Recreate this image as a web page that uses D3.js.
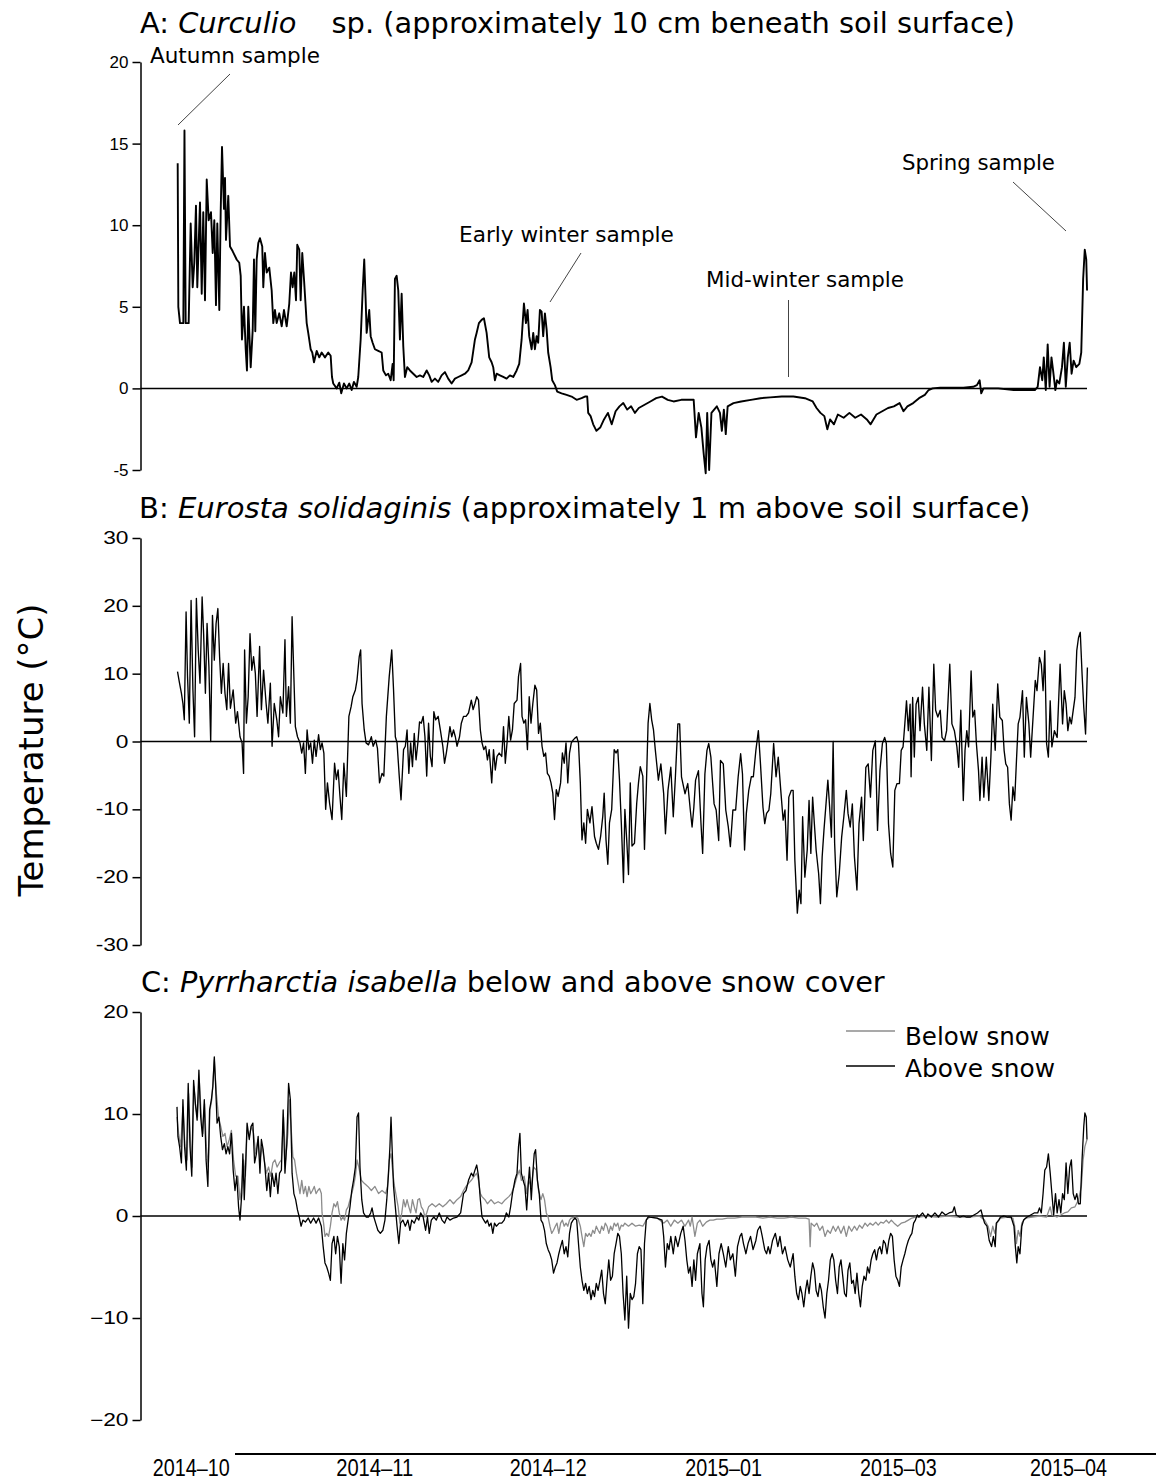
<!DOCTYPE html>
<html>
<head>
<meta charset="utf-8">
<script src="https://cdn.jsdelivr.net/npm/d3@7"></script>
<style>
  body { margin: 0; background: #fff; }
  svg { display: block; }
</style>
</head>
<body>
<svg id="chart" width="1156" height="1481"></svg>
<script>
// ---------------------------------------------------------------------------
// Temperature records, [days since start of logging, temperature °C]
// ---------------------------------------------------------------------------
const recordDays = 158.3;

// A: Curculio sp., ~10 cm beneath soil surface
const curculioTemp = [[0.12,13.8],[0.23,5.0],[0.52,4.0],[1.10,4.0],[1.30,15.8],[1.51,4.0],[2.03,4.0],[2.38,10.1],[2.73,6.2],[3.01,7.7],[3.30,11.2],[3.53,6.2],[4.0,11.4],[4.30,5.8],[4.57,10.8],[4.87,5.4],[5.17,12.8],[5.51,10.3],[5.91,10.8],[6.21,8.3],[6.49,10.3],[6.78,5.1],[7.01,10.1],[7.36,4.8],[7.60,10.8],[7.83,14.8],[8.17,11.0],[8.35,12.9],[8.52,9.1],[8.92,11.8],[9.22,8.7],[9.69,8.4],[10.38,7.9],[10.83,7.7],[11.08,6.9],[11.30,3.0],[11.65,5.0],[11.95,2.4],[12.17,1.1],[12.40,5.0],[12.82,1.3],[13.17,3.6],[13.39,7.9],[13.62,3.5],[13.86,7.9],[14.14,8.9],[14.43,9.2],[14.83,8.7],[15.01,6.2],[15.30,8.3],[15.60,7.1],[16.05,7.4],[16.47,6.0],[16.75,4.0],[17.04,4.8],[17.34,4.0],[17.79,4.6],[18.21,3.8],[18.61,4.8],[19.08,3.8],[19.53,5.2],[19.83,7.1],[20.12,6.2],[20.40,7.1],[20.70,5.4],[20.92,8.8],[21.27,8.5],[21.51,5.4],[21.79,8.3],[22.09,6.7],[22.56,4.0],[22.83,3.4],[23.25,2.4],[23.53,2.2],[23.83,1.6],[24.30,2.3],[24.75,1.9],[25.17,2.2],[25.74,1.9],[26.31,2.2],[26.73,2.0],[26.96,0.7],[27.18,0.3],[27.77,0.0],[28.23,0.35],[28.57,-0.3],[29.04,0.3],[29.51,0],[29.97,0.3],[30.38,-0.1],[30.78,0.4],[31.25,0.1],[31.53,0.7],[31.95,3.0],[32.30,6.0],[32.57,7.9],[32.82,5.4],[32.99,3.4],[33.44,4.8],[33.69,3.2],[34.03,2.8],[34.43,2.4],[35.01,2.3],[35.60,2.2],[35.88,1.1],[36.35,0.8],[36.75,0.9],[37.17,0.5],[37.51,1.5],[37.69,0.5],[37.91,6.7],[38.21,6.9],[38.49,6.0],[38.78,3.0],[39.08,5.8],[39.36,2.6],[39.65,0.7],[40.05,1.3],[40.52,1.1],[41.10,0.9],[41.69,0.7],[42.26,0.8],[42.83,0.7],[43.43,1.1],[43.88,0.8],[44.30,0.4],[44.87,0.6],[45.44,0.4],[46.03,0.8],[46.61,1.0],[47.18,0.6],[47.77,0.3],[48.35,0.6],[48.92,0.7],[49.51,0.8],[50.09,0.9],[50.66,1.1],[51.25,1.6],[51.83,3.0],[52.12,3.4],[52.52,4.0],[52.99,4.2],[53.39,4.3],[53.86,3.4],[54.31,1.9],[54.73,1.6],[55.01,1.3],[55.30,0.5],[55.60,0.9],[56.17,0.8],[56.75,0.7],[57.34,0.6],[57.91,0.8],[58.49,0.7],[59.08,1.1],[59.53,1.5],[59.95,3.0],[60.35,5.2],[60.70,4.0],[60.99,4.8],[61.27,3.2],[61.69,2.4],[61.97,3.4],[62.26,2.4],[62.56,3.2],[62.83,2.8],[63.13,4.8],[63.43,4.7],[63.70,3.2],[64.0,4.6],[64.30,3.6],[64.57,2.2],[64.99,1.3],[65.27,0.5],[65.74,0.2],[66.14,-0.2],[66.90,-0.3],[67.77,-0.4],[68.64,-0.5],[69.51,-0.7],[70.38,-0.6],[70.96,-0.5],[71.36,-0.5],[71.53,-1.5],[71.95,-1.7],[72.40,-2.2],[72.96,-2.6],[73.62,-2.4],[74.28,-1.9],[74.96,-1.5],[75.62,-2.2],[76.30,-1.4],[76.97,-1.1],[77.63,-0.9],[78.31,-1.3],[78.99,-1.1],[79.65,-1.5],[80.33,-1.2],[81.34,-1.0],[82.35,-0.8],[83.36,-0.6],[84.37,-0.5],[85.37,-0.7],[86.38,-0.8],[87.72,-0.7],[89.08,-0.7],[89.88,-0.7],[90.28,-3.0],[90.75,-1.5],[91.22,-2.4],[91.62,-4.0],[91.97,-5.2],[92.23,-1.5],[92.57,-5.0],[92.97,-1.5],[93.44,-1.3],[93.91,-1.1],[94.45,-1.5],[94.78,-2.6],[95.13,-1.3],[95.46,-2.8],[95.79,-1.1],[96.80,-0.9],[98.14,-0.8],[99.83,-0.7],[101.51,-0.6],[103.18,-0.55],[105.20,-0.5],[107.22,-0.5],[109.23,-0.6],[110.59,-0.8],[111.25,-1.2],[111.93,-1.5],[112.61,-1.7],[113.13,-2.5],[113.60,-1.9],[114.28,-2.2],[114.96,-1.6],[115.97,-1.8],[116.97,-1.5],[117.98,-1.8],[118.99,-1.6],[120.0,-1.9],[120.66,-2.2],[121.67,-1.6],[122.68,-1.4],[123.69,-1.2],[124.70,-1.1],[125.70,-0.9],[126.38,-1.4],[127.06,-1.1],[128.07,-0.9],[129.08,-0.6],[130.09,-0.4],[130.75,-0.1],[131.43,0],[132.77,0.05],[134.78,0.05],[136.80,0.05],[138.49,0.1],[139.15,0.2],[139.62,0.5],[139.90,-0.3],[140.30,0],[142.85,0],[145.55,-0.1],[149.23,-0.1],[149.72,0.1],[150.12,1.3],[150.52,0.5],[150.78,1.9],[151.13,-0.1],[151.46,2.7],[151.79,0.1],[152.12,1.9],[152.40,1.1],[152.80,-0.1],[153.08,0.5],[153.48,0.3],[153.95,1.3],[154.28,2.8],[154.61,0.1],[154.96,1.9],[155.29,2.8],[155.62,0.9],[155.97,1.7],[156.43,1.3],[156.97,1.5],[157.30,2.2],[157.63,6.7],[157.91,8.5],[158.17,7.9],[158.31,6.0]];

// B: Eurosta solidaginis, ~1 m above soil surface
const eurostaTemp = [[0.09,10.3],[0.40,8.8],[0.77,7.1],[1.03,5.6],[1.27,3.2],[1.58,19.1],[1.83,9.6],[2.14,2.7],[2.45,20.8],[2.77,7.6],[3.06,0.7],[3.37,21.1],[3.69,13.5],[4.0,8.6],[4.37,21.3],[4.63,15.9],[4.94,7.1],[5.23,17.4],[5.55,11.0],[5.86,0.0],[6.17,18.6],[6.49,12.0],[6.80,17.4],[7.11,19.6],[7.41,12.5],[7.72,7.1],[8.03,11.5],[8.35,7.1],[8.66,4.7],[8.97,11.5],[9.29,4.9],[9.77,7.6],[10.21,2.7],[10.52,4.4],[10.96,0.7],[11.32,-0.2],[11.58,-4.7],[11.76,13.5],[12.07,2.7],[12.38,6.6],[12.70,15.9],[13.01,10.5],[13.32,12.5],[13.63,10.0],[13.93,3.7],[14.37,14.0],[14.68,4.7],[15.06,10.5],[15.50,5.6],[15.81,2.7],[16.24,8.6],[16.54,-0.7],[16.92,5.6],[17.36,3.2],[17.67,0.7],[17.98,6.6],[18.42,4.2],[18.78,15.0],[19.03,3.7],[19.41,8.1],[19.72,2.7],[20.02,18.4],[20.33,9.6],[20.59,2.2],[20.96,0.7],[21.39,-0.2],[21.70,-1.7],[22.02,-0.2],[22.33,-4.7],[22.63,1.7],[22.94,-1.2],[23.25,-0.2],[23.57,-3.2],[23.88,0.2],[24.19,-2.2],[24.63,1.0],[24.94,-1.2],[25.23,-0.2],[25.55,-1.7],[25.86,-10.0],[26.17,-6.1],[26.54,-9.1],[26.97,-11.5],[27.41,-3.2],[27.72,-5.6],[28.03,-4.2],[28.35,-8.1],[28.66,-11.5],[29.03,-3.2],[29.46,-8.1],[29.90,3.7],[30.28,5.1],[30.59,6.6],[31.03,7.6],[31.32,9.1],[31.70,12.5],[31.95,13.5],[32.19,5.6],[32.57,1.7],[32.89,-0.2],[33.32,-0.5],[33.81,0.7],[34.12,-0.7],[34.56,0.2],[34.87,-1.0],[35.23,-6.1],[35.67,-4.7],[35.98,-5.1],[36.42,3.7],[36.92,9.6],[37.36,13.5],[37.67,7.6],[37.98,0.7],[38.28,-0.2],[38.66,-5.1],[38.97,-8.6],[39.41,-1.2],[39.72,-0.7],[40.02,1.7],[40.33,-4.7],[40.64,-0.2],[40.96,-3.7],[41.27,1.2],[41.58,-2.7],[41.90,-0.2],[42.19,2.9],[42.50,2.7],[42.82,3.7],[43.13,0.7],[43.44,-5.1],[43.76,2.7],[44.07,-2.2],[44.37,-3.7],[44.68,4.4],[44.99,3.2],[45.43,3.7],[45.81,1.7],[46.24,-0.7],[46.54,-3.2],[46.85,-1.7],[47.17,0.2],[47.48,2.2],[47.79,0.7],[48.10,1.7],[48.42,0.7],[48.71,-0.7],[49.15,0.7],[49.46,2.7],[49.84,3.7],[50.28,3.7],[50.71,4.2],[51.20,6.1],[51.51,4.7],[51.83,5.6],[52.14,6.6],[52.45,6.1],[52.77,1.7],[53.06,-0.2],[53.37,-1.2],[53.69,-0.7],[54.0,-2.7],[54.31,-1.2],[54.75,-6.1],[55.06,-1.2],[55.37,-4.2],[55.67,-2.2],[56.05,-1.7],[56.49,-2.2],[56.80,2.2],[57.11,-3.2],[57.41,-0.2],[57.72,3.7],[58.03,0.2],[58.35,1.7],[58.66,5.6],[59.15,6.1],[59.41,9.6],[59.77,11.5],[60.02,3.7],[60.33,2.7],[60.64,3.2],[60.96,-1.2],[61.27,6.6],[61.58,2.7],[61.90,5.6],[62.26,8.3],[62.57,7.6],[62.89,1.2],[63.20,2.7],[63.50,-0.7],[63.81,-2.2],[64.12,-1.7],[64.43,-4.7],[64.75,-5.1],[65.06,-6.1],[65.37,-7.6],[65.67,-11.5],[65.98,-7.1],[66.30,-8.1],[66.73,-6.1],[67.04,-1.7],[67.36,-3.2],[67.67,-0.2],[67.98,-6.1],[68.28,-1.7],[68.59,-0.2],[68.90,0.2],[69.22,0.5],[69.53,0.7],[69.84,-0.2],[70.16,-6.1],[70.45,-14.5],[70.77,-12.0],[71.08,-15.0],[71.39,-10.0],[71.83,-12.0],[72.19,-9.6],[72.63,-14.0],[72.94,-15.0],[73.32,-15.9],[73.69,-14.0],[74.07,-11.0],[74.31,-7.6],[74.63,-14.5],[74.94,-18.1],[75.23,-12.0],[75.62,-10.0],[76.05,-1.2],[76.37,-1.7],[76.68,-1.2],[76.97,-5.6],[77.29,-12.0],[77.67,-20.8],[77.91,-10.0],[78.23,-14.5],[78.54,-19.6],[78.85,-6.1],[79.15,-15.4],[79.58,-15.0],[79.97,-9.1],[80.28,-6.1],[80.59,-3.7],[81.03,-5.1],[81.32,-15.9],[81.63,-7.1],[81.95,2.7],[82.26,5.6],[82.57,3.2],[82.89,1.7],[83.20,-1.2],[83.74,-5.7],[84.17,-3.3],[84.66,-7.7],[84.97,-13.6],[85.41,-7.2],[85.90,-3.8],[86.33,-11.1],[86.70,-5.2],[87.13,2.6],[87.44,2.6],[87.76,-5.2],[88.37,-7.7],[88.85,-6.2],[89.29,-10.1],[89.60,-12.6],[89.91,-9.7],[90.21,-5.7],[90.71,-4.3],[91.15,-12.1],[91.44,-16.5],[91.83,-4.8],[92.19,-1.3],[92.50,-0.3],[92.87,-2.3],[93.18,-6.2],[93.43,-9.2],[93.79,-10.1],[94.23,-14.6],[94.54,-2.8],[95.03,-3.3],[95.46,-10.1],[95.90,-12.6],[96.26,-15.5],[96.70,-10.1],[97.18,-10.1],[97.62,-5.2],[98.05,-1.8],[98.37,-4.8],[98.73,-16.0],[99.04,-10.6],[99.46,-7.2],[99.90,-5.2],[100.26,-5.2],[100.70,-1.3],[101.13,1.6],[101.50,-3.3],[101.93,-9.7],[102.24,-12.1],[102.56,-10.6],[102.97,-10.1],[103.29,-7.7],[103.79,-0.3],[104.21,-5.2],[104.59,-2.3],[105.03,-7.2],[105.44,-11.6],[105.76,-10.1],[106.12,-17.5],[106.43,-8.2],[106.87,-7.2],[107.18,-7.2],[107.48,-17.5],[107.91,-25.3],[108.23,-21.9],[108.54,-23.9],[108.83,-11.1],[109.22,-20.0],[109.63,-16.0],[109.95,-8.7],[110.26,-16.5],[110.57,-8.2],[110.87,-12.1],[111.18,-16.0],[111.62,-19.5],[111.93,-23.9],[112.23,-17.0],[112.54,-13.1],[112.90,-9.2],[113.22,-5.7],[113.53,-9.7],[113.84,-14.1],[114.14,0.0],[114.40,-15.0],[114.77,-22.9],[115.20,-19.5],[115.62,-14.1],[116.0,-11.1],[116.43,-7.2],[116.73,-10.6],[117.11,-12.6],[117.48,-9.2],[117.84,-17.0],[118.28,-21.9],[118.64,-12.1],[119.08,-8.2],[119.39,-14.6],[119.83,-3.8],[120.24,-3.3],[120.63,-8.2],[121.04,-1.3],[121.48,0.1],[121.86,-13.1],[122.28,-4.3],[122.71,-0.3],[123.10,0.6],[123.39,-0.3],[123.77,-12.1],[124.14,-16.5],[124.52,-18.5],[124.87,-7.2],[125.25,-6.2],[125.67,-6.2],[125.98,-1.3],[126.30,-0.8],[126.61,2.6],[126.90,6.0],[127.22,1.6],[127.53,5.5],[127.70,-5.2],[127.97,6.5],[128.26,-2.3],[128.57,5.5],[128.94,6.5],[129.25,1.6],[129.69,8.0],[130.0,2.6],[130.43,-1.3],[130.80,8.0],[131.23,-2.8],[131.65,11.4],[131.97,4.6],[132.35,3.6],[132.77,4.6],[133.08,0.6],[133.51,0.1],[133.88,1.6],[134.43,11.4],[134.80,2.6],[135.23,1.6],[135.67,-0.8],[135.98,-3.8],[136.35,4.6],[136.78,-8.7],[137.08,-1.3],[137.39,1.6],[137.70,-0.8],[138.14,10.4],[138.43,3.6],[138.75,4.6],[139.06,-0.3],[139.43,-4.3],[139.67,-8.7],[140.05,-2.3],[140.35,-8.2],[140.78,-2.3],[141.22,-8.7],[141.58,-2.3],[141.90,5.5],[142.33,-1.3],[142.77,8.5],[143.13,3.6],[143.57,3.1],[143.88,-1.3],[144.17,-3.3],[144.49,-3.8],[144.80,-9.2],[145.10,-11.6],[145.41,-6.7],[145.72,-8.7],[146.03,-2.8],[146.33,2.6],[146.64,3.6],[147.08,7.5],[147.39,-2.3],[147.76,6.5],[148.19,2.6],[148.50,-2.3],[148.92,3.6],[149.30,9.0],[149.60,7.5],[150.03,12.4],[150.35,11.4],[150.66,7.5],[150.96,13.4],[151.27,-0.3],[151.58,-2.3],[151.90,6.0],[152.19,-0.8],[152.63,1.6],[153.11,0.6],[153.62,11.4],[154.05,2.6],[154.35,7.5],[154.66,5.5],[154.97,1.6],[155.29,3.6],[155.58,2.6],[155.90,4.6],[156.21,6.5],[156.52,13.4],[156.82,15.3],[157.13,16.1],[157.44,10.0],[157.74,5.0],[158.05,1.1],[158.37,10.9]];

// C: Pyrrharctia isabella, logger beneath the snow pack
const isabellaBelowSnow = [[0,9.7],[0.28,8.1],[0.64,6.8],[1.03,10.7],[1.39,6.8],[1.76,5.5],[2.02,12.0],[2.33,7.5],[2.63,4.8],[2.94,12.7],[3.25,10.7],[3.57,9.7],[3.88,13.3],[4.19,10.1],[4.50,8.1],[4.80,11.0],[5.11,6.8],[5.43,4.8],[5.74,10.4],[6.05,11.4],[6.49,15.3],[6.85,12.0],[7.23,9.7],[7.60,8.8],[7.98,7.8],[8.35,8.1],[8.71,6.8],[9.10,7.5],[9.46,8.4],[9.84,5.5],[10.21,3.9],[10.59,3.9],[10.96,1.6],[11.27,2.9],[11.58,5.5],[11.90,3.9],[12.19,8.4],[12.57,7.8],[12.94,8.8],[13.32,8.1],[13.69,6.1],[14.07,7.5],[14.43,5.5],[14.80,6.8],[15.18,5.5],[15.55,4.2],[15.93,4.8],[16.30,3.9],[16.68,5.2],[17.04,5.5],[17.41,4.8],[17.79,5.2],[18.16,5.5],[18.54,9.7],[18.90,5.5],[19.29,8.1],[19.53,11.4],[19.84,8.8],[20.16,5.8],[20.45,5.5],[20.77,4.2],[21.08,3.2],[21.39,2.2],[21.70,3.5],[22.02,2.2],[22.33,2.9],[22.63,1.9],[22.94,2.9],[23.25,2.2],[23.57,2.5],[23.88,2.9],[24.19,2.2],[24.50,2.5],[24.80,2.7],[25.11,2.2],[25.23,0.3],[25.50,-0.7],[25.74,-2.0],[26.05,-1.7],[26.37,-2.0],[26.68,-1.0],[26.97,0.3],[27.29,1.2],[27.60,0.9],[27.91,1.4],[28.23,0.3],[28.54,-0.4],[28.85,-0.1],[29.15,-0.4],[29.46,0.6],[29.77,0.9],[30.09,1.6],[30.40,2.2],[30.71,2.9],[31.03,3.9],[31.32,5.5],[31.63,4.8],[32.07,3.5],[32.57,3.2],[33.20,2.9],[33.81,2.5],[34.43,2.9],[35.06,2.2],[35.67,2.5],[36.30,2.2],[36.61,2.9],[36.92,5.5],[37.23,6.1],[37.55,4.2],[37.84,2.9],[38.16,1.9],[38.47,0.9],[38.78,-0.7],[39.10,0.3],[39.41,1.6],[39.72,0.9],[40.02,1.6],[40.33,0.9],[40.64,0.3],[40.96,1.6],[41.27,0.9],[41.58,0.3],[41.90,1.6],[42.19,1.7],[42.50,0.9],[42.82,0.6],[43.13,-0.1],[43.44,0.3],[43.76,0.9],[44.37,1.2],[44.99,0.9],[45.62,1.2],[46.24,0.9],[46.85,1.2],[47.48,1.6],[48.10,1.2],[48.71,1.6],[49.34,1.9],[49.84,2.5],[50.28,2.9],[50.71,3.2],[51.20,3.5],[51.70,3.9],[52.14,4.2],[52.45,3.5],[52.77,2.2],[53.06,1.9],[53.57,1.6],[54.0,1.2],[54.63,1.6],[55.23,1.2],[55.86,1.4],[56.49,1.2],[57.11,1.6],[57.72,1.9],[58.16,2.2],[58.66,2.9],[59.15,3.9],[59.58,4.5],[59.90,3.5],[60.40,3.9],[60.83,2.2],[61.15,3.5],[61.63,2.9],[62.07,4.8],[62.50,4.5],[62.89,2.5],[63.32,1.6],[63.63,2.2],[63.93,1.6],[64.24,0.3],[64.56,-0.1],[64.87,-1.0],[65.18,-1.7],[65.50,-1.4],[65.81,-1.0],[66.10,-0.7],[66.42,-1.7],[66.73,-0.7],[67.04,-0.4],[67.36,-1.0],[67.67,-0.7],[67.98,-1.0],[68.28,-0.4],[68.59,-0.2],[69.22,-0.1],[69.72,-0.2],[70.16,-1.0],[70.45,-2.0],[70.77,-3.0],[71.08,-1.7],[71.39,-2.0],[71.70,-1.7],[72.02,-2.0],[72.33,-1.4],[72.63,-1.7],[72.94,-1.0],[73.25,-1.4],[73.57,-1.7],[73.88,-1.0],[74.19,-1.4],[74.50,-0.7],[74.80,-1.0],[75.11,-1.7],[75.43,-1.0],[75.74,-1.4],[76.05,-0.7],[76.37,-1.0],[76.68,-0.7],[76.97,-1.4],[77.29,-0.9],[77.60,-1.0],[77.91,-0.7],[78.54,-1.0],[79.15,-0.7],[79.77,-1.0],[80.40,-0.9],[81.03,-1.0],[81.63,-0.4],[82.26,-0.1],[83.50,-0.2],[84.66,-0.7],[85.29,-0.4],[85.90,-1.0],[86.52,-0.4],[87.13,-0.7],[87.76,-0.4],[88.37,-1.0],[88.99,-0.4],[89.29,-1.0],[89.60,-0.1],[90.09,-2.0],[90.52,-0.7],[90.96,-0.4],[91.44,-1.0],[92.07,-0.6],[92.68,-0.4],[93.30,-0.4],[93.91,-0.3],[94.83,-0.3],[95.77,-0.2],[97.01,-0.2],[98.23,-0.1],[99.46,-0.1],[100.70,-0.1],[101.93,-0.2],[103.17,-0.1],[104.40,-0.2],[105.63,-0.2],[106.87,-0.1],[108.10,-0.2],[109.34,-0.2],[109.95,-0.3],[110.14,-3.0],[110.31,-0.7],[110.87,-1.0],[111.30,-0.7],[111.81,-1.4],[112.30,-1.0],[112.73,-2.0],[113.17,-1.4],[113.65,-1.7],[114.14,-1.0],[114.57,-1.5],[115.01,-1.0],[115.50,-1.7],[116.0,-1.0],[116.43,-2.0],[116.87,-1.0],[117.36,-1.5],[117.84,-1.0],[118.28,-1.4],[118.71,-0.9],[119.20,-1.2],[119.69,-0.7],[120.12,-1.0],[120.56,-0.7],[121.04,-0.9],[121.55,-0.6],[121.98,-0.9],[122.42,-0.6],[122.90,-0.7],[123.39,-0.4],[123.83,-0.7],[124.26,-0.4],[124.75,-0.7],[125.37,-1.0],[125.98,-0.7],[126.61,-0.6],[127.22,-0.4],[127.84,-0.2],[128.45,-0.1],[129.06,-0.1],[130.30,0],[132.16,-0.1],[134.0,0],[135.86,-0.1],[137.70,-0.1],[139.55,0],[140.49,-0.4],[141.10,-1.0],[141.53,-2.0],[141.91,-1.0],[142.26,-1.7],[142.64,-0.7],[143.25,-0.2],[144.49,-0.1],[145.41,-0.2],[145.72,-1.0],[146.03,-2.7],[146.33,-1.4],[146.64,-2.0],[146.96,-0.7],[147.57,-0.2],[148.80,-0.1],[150.03,0],[151.27,-0.1],[151.90,0.9],[152.19,0.1],[153.11,-0.1],[153.74,0.1],[154.35,0.3],[154.97,0.4],[155.58,0.8],[156.21,0.9],[156.82,1.6],[157.32,2.9],[157.62,5.5],[157.93,6.8],[158.30,7.5]];

// C: Pyrrharctia isabella, logger above the snow pack
const isabellaAboveSnow = [[0,10.7],[0.16,7.8],[0.45,6.8],[0.77,5.2],[1.03,11.4],[1.32,6.8],[1.63,4.5],[1.95,13.0],[2.26,6.8],[2.57,3.9],[2.89,13.3],[3.20,11.0],[3.50,9.4],[3.81,14.3],[4.12,9.7],[4.43,7.8],[4.75,11.4],[5.06,5.5],[5.37,2.9],[5.67,10.4],[5.98,11.4],[6.24,12.7],[6.49,15.6],[6.73,12.7],[6.97,9.1],[7.29,9.7],[7.60,7.8],[7.91,6.5],[8.23,7.1],[8.54,6.1],[8.85,6.8],[9.15,6.1],[9.46,8.1],[9.77,4.5],[10.09,2.5],[10.40,3.9],[10.71,0.9],[10.96,-0.4],[11.27,2.2],[11.46,6.1],[11.70,1.6],[11.95,5.2],[12.19,9.1],[12.57,7.5],[12.89,8.8],[13.20,9.1],[13.50,5.2],[13.81,6.1],[14.12,7.8],[14.43,4.2],[14.68,7.5],[14.99,6.5],[15.30,4.8],[15.62,2.5],[15.93,4.2],[16.24,1.9],[16.54,4.2],[16.92,2.9],[17.23,4.2],[17.55,2.2],[17.84,4.2],[18.16,4.5],[18.47,10.4],[18.78,4.2],[19.10,7.1],[19.41,13.0],[19.72,11.4],[20.02,4.2],[20.33,2.2],[20.64,1.6],[20.96,0.6],[21.27,-0.1],[21.58,-1.0],[21.90,-0.4],[22.33,-0.6],[22.82,-0.2],[23.25,-0.7],[23.76,-0.2],[24.19,-0.7],[24.63,-0.2],[25.11,-1.0],[25.43,-3.0],[25.74,-4.6],[26.05,-5.0],[26.37,-5.6],[26.68,-6.3],[26.97,-2.7],[27.29,-2.0],[27.60,-3.7],[27.91,-2.0],[28.23,-3.0],[28.54,-6.6],[28.85,-2.7],[29.15,-4.3],[29.46,-1.7],[29.77,-0.4],[30.09,0.9],[30.40,2.5],[30.71,3.5],[31.03,4.8],[31.32,9.7],[31.58,10.1],[31.83,4.8],[32.14,1.6],[32.45,0.3],[32.89,-0.1],[33.32,-0.1],[33.69,0.3],[33.93,0.8],[34.24,-0.1],[34.56,-0.7],[34.94,-1.4],[35.37,-1.7],[35.81,-1.4],[36.17,-0.4],[36.49,1.6],[36.80,4.2],[37.04,6.8],[37.23,9.7],[37.41,6.8],[37.67,2.9],[37.98,0.9],[38.28,-1.0],[38.59,-2.7],[38.90,-0.7],[39.29,-0.4],[39.72,-1.0],[40.16,-0.4],[40.52,-1.4],[40.83,-0.4],[41.27,-0.7],[41.70,-0.1],[42.07,-0.4],[42.38,0.3],[42.82,-0.1],[43.25,-1.4],[43.57,-0.1],[43.88,-1.7],[44.24,-0.4],[44.68,-0.1],[45.11,-0.4],[45.62,0.3],[46.10,-0.4],[46.54,-0.7],[46.97,-0.1],[47.48,-0.4],[48.10,-0.2],[48.71,-0.1],[49.34,0.3],[49.84,2.2],[50.28,2.5],[50.71,3.5],[51.20,4.2],[51.51,3.9],[51.83,4.5],[52.14,5.0],[52.45,3.9],[52.77,1.6],[53.06,-0.1],[53.37,-0.4],[53.69,-0.7],[54.0,-0.4],[54.31,-1.0],[54.63,-0.7],[54.94,-1.7],[55.23,-0.7],[55.55,-1.0],[56.05,-0.7],[56.49,-0.7],[56.92,-0.4],[57.29,0.3],[57.72,-0.1],[58.03,0.9],[58.35,2.2],[58.78,3.5],[59.15,4.2],[59.41,6.8],[59.65,8.1],[59.90,4.2],[60.21,3.5],[60.52,2.9],[60.83,0.6],[61.15,3.5],[61.32,4.8],[61.63,1.6],[61.90,4.2],[62.14,6.1],[62.38,6.5],[62.70,3.5],[63.01,2.2],[63.32,-0.4],[63.63,-0.7],[63.93,-1.4],[64.24,-2.7],[64.56,-3.3],[64.87,-3.7],[65.18,-4.3],[65.50,-5.6],[65.81,-5.0],[66.10,-4.6],[66.42,-3.7],[66.73,-3.0],[67.04,-2.4],[67.36,-3.7],[67.67,-3.0],[67.98,-4.0],[68.28,-1.7],[68.59,-0.7],[68.90,-0.4],[69.22,-0.2],[69.53,-0.4],[69.84,-2.7],[70.16,-5.0],[70.45,-6.3],[70.77,-7.3],[71.08,-6.6],[71.39,-7.6],[71.70,-6.9],[72.02,-8.2],[72.33,-7.3],[72.63,-7.9],[72.94,-6.6],[73.25,-7.3],[73.57,-6.3],[73.88,-5.3],[74.19,-7.6],[74.50,-8.6],[74.80,-6.3],[75.11,-4.3],[75.43,-6.3],[75.74,-5.9],[76.05,-3.7],[76.37,-2.7],[76.68,-1.7],[76.97,-2.0],[77.29,-3.7],[77.60,-7.6],[77.91,-10.2],[78.23,-5.9],[78.54,-11.0],[78.85,-7.6],[79.15,-8.2],[79.46,-7.9],[79.77,-6.6],[80.09,-3.7],[80.40,-3.0],[80.71,-3.3],[81.03,-8.6],[81.32,-2.7],[81.63,-0.4],[81.95,-0.1],[82.26,-0.1],[83.50,-0.2],[84.37,-0.4],[84.66,-2.0],[84.97,-5.0],[85.29,-2.7],[85.58,-3.3],[85.90,-2.0],[86.33,-3.7],[86.70,-2.0],[87.13,-3.0],[87.63,-1.7],[88.05,-1.0],[88.37,-2.4],[88.68,-4.3],[88.99,-5.6],[89.29,-5.0],[89.60,-6.9],[89.91,-4.3],[90.21,-6.3],[90.52,-3.7],[90.96,-2.7],[91.32,-7.6],[91.57,-8.9],[91.88,-4.3],[92.19,-3.0],[92.56,-2.4],[92.87,-4.3],[93.18,-5.0],[93.48,-4.3],[93.91,-6.9],[94.28,-3.7],[94.66,-2.7],[95.03,-3.7],[95.46,-5.0],[95.90,-3.0],[96.26,-4.3],[96.70,-3.7],[97.13,-5.9],[97.50,-3.0],[97.93,-2.0],[98.23,-1.7],[98.54,-2.7],[98.97,-3.7],[99.34,-2.7],[99.77,-2.0],[100.21,-3.3],[100.70,-2.4],[101.01,-1.4],[101.44,-1.0],[101.81,-2.0],[102.24,-3.3],[102.56,-3.7],[102.85,-3.0],[103.17,-3.7],[103.60,-2.4],[104.09,-1.7],[104.52,-3.0],[104.89,-2.0],[105.32,-3.7],[105.76,-3.0],[106.24,-4.3],[106.68,-5.0],[107.18,-3.7],[107.48,-5.9],[107.79,-7.6],[108.10,-8.2],[108.42,-6.9],[108.71,-7.6],[109.03,-8.9],[109.34,-7.3],[109.63,-6.3],[109.95,-7.6],[110.26,-5.9],[110.57,-4.6],[110.87,-5.3],[111.18,-7.3],[111.50,-7.9],[111.81,-6.6],[112.10,-7.3],[112.42,-8.9],[112.73,-10.0],[113.04,-7.6],[113.34,-6.3],[113.65,-4.3],[113.97,-3.7],[114.26,-4.3],[114.57,-6.3],[114.89,-7.6],[115.20,-5.0],[115.50,-4.3],[115.81,-5.9],[116.12,-7.6],[116.43,-7.9],[116.73,-5.3],[117.04,-4.6],[117.36,-6.6],[117.65,-6.3],[117.97,-7.6],[118.28,-5.6],[118.59,-7.6],[118.89,-8.9],[119.20,-6.9],[119.51,-5.9],[119.83,-6.3],[120.12,-5.0],[120.43,-5.6],[120.75,-4.3],[121.04,-3.7],[121.36,-3.3],[121.67,-4.3],[121.98,-3.3],[122.28,-3.0],[122.59,-3.7],[122.90,-2.4],[123.22,-2.7],[123.51,-3.7],[123.83,-2.4],[124.14,-1.7],[124.45,-2.0],[124.75,-4.3],[125.06,-5.9],[125.37,-6.3],[125.67,-6.9],[125.98,-5.0],[126.30,-4.3],[126.61,-3.7],[126.90,-3.0],[127.22,-2.4],[127.53,-2.0],[127.84,-1.7],[128.14,-0.7],[128.45,-0.4],[128.77,0.1],[129.06,-0.1],[129.69,0.3],[130.30,-0.2],[130.61,0.2],[131.23,-0.1],[131.84,0.3],[132.47,-0.1],[133.08,0.4],[133.69,0.1],[134.31,0.3],[134.92,0.4],[135.23,0.9],[135.55,0.1],[136.16,-0.1],[136.78,0],[137.39,-0.1],[138.02,-0.1],[138.63,0.1],[139.25,0.3],[139.86,0.6],[140.17,-0.1],[140.49,-0.7],[140.90,-1.0],[141.29,-2.4],[141.70,-3.0],[142.02,-2.0],[142.33,-3.0],[142.52,-0.7],[142.94,-0.4],[143.25,-0.1],[143.88,0],[144.49,-0.1],[145.10,-0.1],[145.60,-1.0],[145.84,-3.0],[146.09,-4.6],[146.33,-3.0],[146.64,-3.7],[146.96,-1.0],[147.27,-0.4],[147.88,-0.1],[148.50,0.1],[149.11,0.3],[149.72,0.3],[150.03,0.8],[150.35,0.3],[150.66,2.2],[150.96,4.5],[151.27,4.8],[151.58,6.1],[151.90,4.2],[152.19,2.2],[152.50,0.1],[152.82,2.2],[153.11,0.3],[153.43,1.6],[153.74,0.3],[154.05,2.2],[154.35,1.6],[154.66,5.2],[154.97,2.2],[155.29,4.8],[155.58,5.5],[155.90,2.2],[156.21,1.6],[156.52,2.2],[156.82,1.2],[157.13,1.2],[157.44,5.5],[157.74,8.8],[157.93,10.1],[158.17,9.7],[158.30,7.5]];

// Month labels along the shared time axis
const monthTickDays = [2.4, 34.3, 64.5, 95.0, 125.4, 155.0];
const monthTickLabels = ["2014\u201310", "2014\u201311", "2014\u201312", "2015\u201301", "2015\u201303", "2015\u201304"];

// Temperature ticks for each panel
const ticksA = [-5, 0, 5, 10, 15, 20];
const ticksB = [-30, -20, -10, 0, 10, 20, 30];
const ticksC = [-20, -10, 0, 10, 20];

// Sampling events marked on panel A
const sampleNames = ["Autumn sample", "Early winter sample", "Mid-winter sample", "Spring sample"];

// ---------------------------------------------------------------------------
const svg = d3.select("#chart");
const axisX = 140.5;
const x = d3.scaleLinear().domain([0, recordDays]).range([177, 1087]);

// Scale a text element's font so its rendered width matches a target
function fitWidth(sel, target) {
  const fs = parseFloat(sel.attr("font-size"));
  const w = sel.node().getComputedTextLength();
  if (w > 0) sel.attr("font-size", (fs * target / w).toFixed(2));
  return sel;
}
// Widen or narrow a text element horizontally about its anchor point
function scaleX(sel, k) {
  const tx = +sel.attr("x") || 0;
  sel.attr("transform", `translate(${tx},0) scale(${k},1) translate(${-tx},0)`);
}

const panels = [
  { id: "A", data: [{ values: curculioTemp, color: "#000", width: 1.9 }],
    domain: [-5, 20], top: 62, bottom: 470, ticks: ticksA,
    fmt: d => d < 0 ? "-" + Math.abs(d) : String(d), wide: 1.0, fs: 17 },
  { id: "B", data: [{ values: eurostaTemp, color: "#000", width: 1.35 }],
    domain: [-30, 30], top: 538, bottom: 945, ticks: ticksB,
    fmt: d => d < 0 ? "-" + Math.abs(d) : String(d), wide: 1.3, fs: 17.5 },
  { id: "C", data: [
      { values: isabellaBelowSnow, color: "#8c8c8c", width: 1.3 },
      { values: isabellaAboveSnow, color: "#000", width: 1.3 }],
    domain: [-20, 20], top: 1012, bottom: 1420, ticks: ticksC,
    fmt: d => d < 0 ? "\u2212" + Math.abs(d) : String(d), wide: 1.3, fs: 17.5 }
];

panels.forEach(p => {
  const y = d3.scaleLinear().domain(p.domain).range([p.bottom, p.top]);
  p.y = y;
  const g = svg.append("g").attr("class", "panel-" + p.id);

  // y axis
  const ax = g.append("g")
    .attr("transform", `translate(${axisX},0)`)
    .call(d3.axisLeft(y).tickValues(p.ticks).tickFormat(p.fmt)
      .tickSize(8).tickSizeOuter(0).tickPadding(4));
  ax.select(".domain").attr("stroke", "#000").attr("stroke-width", 1.5);
  ax.selectAll(".tick line").attr("stroke", "#000").attr("stroke-width", 1.5);
  ax.selectAll(".tick text")
    .attr("font-family", "'Liberation Sans', Arial, sans-serif")
    .attr("font-size", p.fs).attr("fill", "#000")
    .each(function () { if (p.wide !== 1) scaleX(d3.select(this), p.wide); });

  // zero reference line
  g.append("line")
    .attr("x1", axisX).attr("x2", x(recordDays))
    .attr("y1", y(0)).attr("y2", y(0))
    .attr("stroke", "#000").attr("stroke-width", 1.5);

  // temperature traces
  const line = d3.line().x(d => x(d[0])).y(d => y(d[1]));
  p.data.forEach(s => {
    g.append("path")
      .datum(s.values)
      .attr("d", line)
      .attr("fill", "none")
      .attr("stroke", s.color)
      .attr("stroke-width", s.width)
      .attr("stroke-linejoin", "round");
  });
});

// Panel titles
const titleFont = "'DejaVu Sans', Verdana, sans-serif";
function title(xPos, yPos, width, parts) {
  const t = svg.append("text").attr("x", xPos).attr("y", yPos)
    .attr("font-family", titleFont).attr("font-size", 24).attr("fill", "#000");
  let extra = 0;
  parts.forEach(([txt, italic, dx]) => {
    const ts = t.append("tspan").text(txt);
    if (italic) ts.attr("font-style", "italic");
    if (dx) { ts.attr("dx", dx); extra += dx; }
  });
  fitWidth(t, width - extra);
}
title(140, 33, 875, [["A: ", false], ["Curculio", true], [" sp. (approximately 10 cm beneath soil surface)", false, 26]]);
title(139, 518, 892, [["B: ", false], ["Eurosta solidaginis", true], [" (approximately 1 m above soil surface)", false]]);
title(141, 992, 744, [["C: ", false], ["Pyrrharctia isabella", true], [" below and above snow cover", false]]);

// Sample annotations on panel A, each with a leader line to its sample
const notes = [
  { text: sampleNames[0], x: 150, y: 63, w: 170, line: [230, 74, 178, 125] },
  { text: sampleNames[1], x: 459, y: 242, w: 215, line: [581, 253, 550, 302] },
  { text: sampleNames[2], x: 706, y: 287, w: 198, line: [788.5, 300, 788.5, 377] },
  { text: sampleNames[3], x: 902, y: 170, w: 153, line: [1013, 182, 1066, 231] }
];
notes.forEach(n => {
  const t = svg.append("text").attr("x", n.x).attr("y", n.y)
    .attr("font-family", titleFont).attr("font-size", 19).attr("fill", "#000")
    .text(n.text);
  fitWidth(t, n.w);
  svg.append("line")
    .attr("x1", n.line[0]).attr("y1", n.line[1])
    .attr("x2", n.line[2]).attr("y2", n.line[3])
    .attr("stroke", "#444").attr("stroke-width", 1);
});

// Legend for panel C
const legend = [
  { label: "Below snow", color: "#8c8c8c", y: 1031, ty: 1045, w: 145 },
  { label: "Above snow", color: "#000", y: 1066, ty: 1077, w: 150 }
];
legend.forEach(l => {
  svg.append("line").attr("x1", 846).attr("x2", 895)
    .attr("y1", l.y).attr("y2", l.y)
    .attr("stroke", l.color).attr("stroke-width", 1.5);
  const t = svg.append("text").attr("x", 905).attr("y", l.ty)
    .attr("font-family", titleFont).attr("font-size", 21).attr("fill", "#000")
    .text(l.label);
  fitWidth(t, l.w);
});

// Shared y-axis title
const yt = svg.append("text")
  .attr("transform", "translate(43,750) rotate(-90)")
  .attr("text-anchor", "middle")
  .attr("font-family", titleFont).attr("font-size", 30).attr("fill", "#000")
  .text("Temperature (\u00b0C)");
fitWidth(yt, 293);

// Shared time axis at the bottom
svg.append("line").attr("x1", 235).attr("x2", 1156)
  .attr("y1", 1454).attr("y2", 1454)
  .attr("stroke", "#000").attr("stroke-width", 2);
const xa = svg.append("g").attr("transform", "translate(0,1458)")
  .call(d3.axisBottom(x).tickValues(monthTickDays)
    .tickFormat((d, i) => monthTickLabels[i]).tickSize(0));
xa.select(".domain").remove();
xa.selectAll(".tick text")
  .attr("font-family", "'Liberation Sans Narrow', 'Liberation Sans', Arial, sans-serif")
  .attr("font-size", 23.5).attr("fill", "#000")
  .attr("y", 17.5).attr("dy", null)
  .each(function () {
    const t = d3.select(this);
    const w = this.getComputedTextLength();
    if (w > 0) scaleX(t, 77 / w);
  });
</script>
</body>
</html>
